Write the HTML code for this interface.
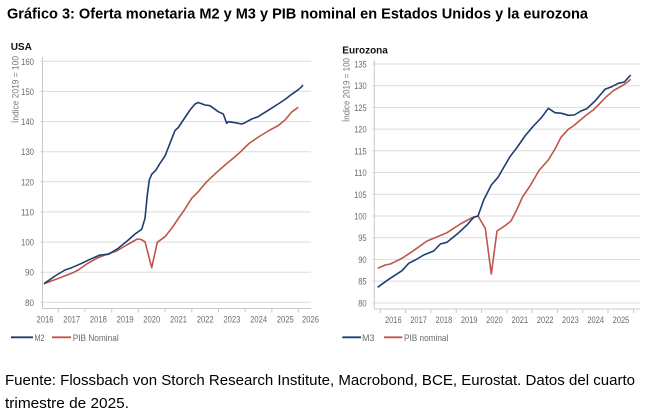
<!DOCTYPE html>
<html>
<head>
<meta charset="utf-8">
<style>
  html,body{margin:0;padding:0;background:#fff;}
  svg{display:block;}
  text{font-family:"Liberation Sans",sans-serif;}
  .tick{font-size:9.5px;fill:#6b6b6b;}
  .grid{stroke:#dcdcdc;stroke-width:1;}
  .axis{stroke:#c8c8c8;stroke-width:1;}
</style>
</head>
<body>
<svg width="645" height="417" viewBox="0 0 645 417" xmlns="http://www.w3.org/2000/svg">
  <rect width="645" height="417" fill="#fff"/>
  <!-- Title -->
  <text x="7" y="18.5" font-size="15" font-weight="bold" fill="#000" textLength="581" lengthAdjust="spacingAndGlyphs">Gráfico 3: Oferta monetaria M2 y M3 y PIB nominal en Estados Unidos y la eurozona</text>

  <!-- ================= USA ================= -->
  <text x="10.7" y="50" font-size="10" font-weight="bold" fill="#111">USA</text>
  <text transform="translate(18.5,89.5) rotate(-90)" text-anchor="middle" font-size="9.5" fill="#7a7a7a" textLength="67" lengthAdjust="spacingAndGlyphs">Índice 2019 = 100</text>

  <!-- gridlines -->
  <g class="grid">
    <line x1="40" y1="61.3" x2="311" y2="61.3"/>
    <line x1="40" y1="91.4" x2="311" y2="91.4"/>
    <line x1="40" y1="121.5" x2="311" y2="121.5"/>
    <line x1="40" y1="151.7" x2="311" y2="151.7"/>
    <line x1="40" y1="181.8" x2="311" y2="181.8"/>
    <line x1="40" y1="211.9" x2="311" y2="211.9"/>
    <line x1="40" y1="242.1" x2="311" y2="242.1"/>
    <line x1="40" y1="272.2" x2="311" y2="272.2"/>
    <line x1="40" y1="302.3" x2="311" y2="302.3"/>
  </g>
  <line class="axis" x1="42.5" y1="57" x2="42.5" y2="308.5"/>
  <line class="axis" x1="42.5" y1="308.5" x2="311" y2="308.5"/>
  <g class="axis">
    <line x1="58.3" y1="308.5" x2="58.3" y2="312.5"/>
    <line x1="85" y1="308.5" x2="85" y2="312.5"/>
    <line x1="111.7" y1="308.5" x2="111.7" y2="312.5"/>
    <line x1="138.4" y1="308.5" x2="138.4" y2="312.5"/>
    <line x1="165.1" y1="308.5" x2="165.1" y2="312.5"/>
    <line x1="191.8" y1="308.5" x2="191.8" y2="312.5"/>
    <line x1="218.5" y1="308.5" x2="218.5" y2="312.5"/>
    <line x1="245.2" y1="308.5" x2="245.2" y2="312.5"/>
    <line x1="271.9" y1="308.5" x2="271.9" y2="312.5"/>
    <line x1="298.6" y1="308.5" x2="298.6" y2="312.5"/>
  </g>
  <!-- y labels -->
  <g class="tick" text-anchor="end">
    <text x="34" y="64.8" textLength="13" lengthAdjust="spacingAndGlyphs">160</text>
    <text x="34" y="94.9" textLength="13" lengthAdjust="spacingAndGlyphs">150</text>
    <text x="34" y="125" textLength="13" lengthAdjust="spacingAndGlyphs">140</text>
    <text x="34" y="155.2" textLength="13" lengthAdjust="spacingAndGlyphs">130</text>
    <text x="34" y="185.3" textLength="13" lengthAdjust="spacingAndGlyphs">120</text>
    <text x="34" y="215.4" textLength="13" lengthAdjust="spacingAndGlyphs">110</text>
    <text x="34" y="245.6" textLength="13" lengthAdjust="spacingAndGlyphs">100</text>
    <text x="34" y="275.7" textLength="9" lengthAdjust="spacingAndGlyphs">90</text>
    <text x="34" y="305.8" textLength="9" lengthAdjust="spacingAndGlyphs">80</text>
  </g>
  <!-- x labels -->
  <g class="tick" text-anchor="middle">
    <text x="45" y="322.5" textLength="17" lengthAdjust="spacingAndGlyphs">2016</text>
    <text x="71.7" y="322.5" textLength="17" lengthAdjust="spacingAndGlyphs">2017</text>
    <text x="98.4" y="322.5" textLength="17" lengthAdjust="spacingAndGlyphs">2018</text>
    <text x="125.1" y="322.5" textLength="17" lengthAdjust="spacingAndGlyphs">2019</text>
    <text x="151.8" y="322.5" textLength="17" lengthAdjust="spacingAndGlyphs">2020</text>
    <text x="178.5" y="322.5" textLength="17" lengthAdjust="spacingAndGlyphs">2021</text>
    <text x="205.2" y="322.5" textLength="17" lengthAdjust="spacingAndGlyphs">2022</text>
    <text x="231.9" y="322.5" textLength="17" lengthAdjust="spacingAndGlyphs">2023</text>
    <text x="258.6" y="322.5" textLength="17" lengthAdjust="spacingAndGlyphs">2024</text>
    <text x="285.3" y="322.5" textLength="17" lengthAdjust="spacingAndGlyphs">2025</text>
    <text x="310.5" y="322.5" textLength="17" lengthAdjust="spacingAndGlyphs">2026</text>
  </g>
  <!-- series -->
  <polyline fill="none" stroke="#c0564a" stroke-width="1.6" stroke-linejoin="round" points="44,283.7 56.7,279 71.7,273.3 78.3,270 86.7,264 96.7,258.3 106.7,254.3 116.7,251 126.7,245 137.3,239 141,239.5 145,241.7 151.7,267.7 157.3,242.3 165,236.7 171.7,228.3 178,219 184.3,210 191.7,198.3 198.3,191.7 206.7,181.7 216.7,172.3 225,165 231.7,159.5 240,152.3 249,143.5 260,136 270,130 278.3,125.5 285,120 291.7,112 298.3,107.3"/>
  <polyline fill="none" stroke="#1d3e6f" stroke-width="1.6" stroke-linejoin="round" points="44,283.7 55,276 65,270 71.7,267.7 81.7,263.3 90,259.3 100,255 108.3,254.3 118.3,248.3 128.3,240 135,234 141.7,229.3 145,218.3 147.3,195 149.3,180 151.7,174.3 156,170 160,163.3 165,156 170,143.3 175,130.5 178.3,127.5 183.3,120 190,110 195,104 198.3,102.5 205,105 210,105.7 218.3,111.7 223.3,114 226.7,123.3 228.3,121.7 235,122.7 241.7,124 245,122.7 251.7,119 258,116.7 270,109.2 275,106 285,99.5 291.7,94.3 298.3,89.7 301,87.3 303,85"/>
  <!-- legend -->
  <line x1="11" y1="337.3" x2="33" y2="337.3" stroke="#1d3e6f" stroke-width="1.8"/>
  <text x="34.5" y="341" font-size="9.5" fill="#6b6b6b" textLength="10" lengthAdjust="spacingAndGlyphs">M2</text>
  <line x1="52" y1="337.3" x2="71" y2="337.3" stroke="#c0564a" stroke-width="1.8"/>
  <text x="72.7" y="341" font-size="9.5" fill="#6b6b6b" textLength="46" lengthAdjust="spacingAndGlyphs">PIB Nominal</text>

  <!-- ================= EUROZONA ================= -->
  <text x="342.3" y="53.5" font-size="10" font-weight="bold" fill="#111">Eurozona</text>
  <text transform="translate(349.5,90) rotate(-90)" text-anchor="middle" font-size="9.5" fill="#7a7a7a" textLength="64" lengthAdjust="spacingAndGlyphs">Índice 2019 = 100</text>

  <g class="grid">
    <line x1="372" y1="64" x2="640" y2="64"/>
    <line x1="372" y1="85.7" x2="640" y2="85.7"/>
    <line x1="372" y1="107.4" x2="640" y2="107.4"/>
    <line x1="372" y1="129.1" x2="640" y2="129.1"/>
    <line x1="372" y1="150.8" x2="640" y2="150.8"/>
    <line x1="372" y1="172.6" x2="640" y2="172.6"/>
    <line x1="372" y1="194.3" x2="640" y2="194.3"/>
    <line x1="372" y1="216" x2="640" y2="216"/>
    <line x1="372" y1="237.7" x2="640" y2="237.7"/>
    <line x1="372" y1="259.4" x2="640" y2="259.4"/>
    <line x1="372" y1="281.1" x2="640" y2="281.1"/>
    <line x1="372" y1="303" x2="640" y2="303"/>
  </g>
  <line class="axis" x1="374.3" y1="60" x2="374.3" y2="309"/>
  <line class="axis" x1="374.3" y1="309" x2="640" y2="309"/>
  <g class="axis">
    <line x1="380.3" y1="309" x2="380.3" y2="313"/>
    <line x1="405.6" y1="309" x2="405.6" y2="313"/>
    <line x1="430.9" y1="309" x2="430.9" y2="313"/>
    <line x1="456.2" y1="309" x2="456.2" y2="313"/>
    <line x1="481.5" y1="309" x2="481.5" y2="313"/>
    <line x1="506.8" y1="309" x2="506.8" y2="313"/>
    <line x1="532.1" y1="309" x2="532.1" y2="313"/>
    <line x1="557.4" y1="309" x2="557.4" y2="313"/>
    <line x1="582.7" y1="309" x2="582.7" y2="313"/>
    <line x1="608" y1="309" x2="608" y2="313"/>
    <line x1="633.5" y1="309" x2="633.5" y2="313"/>
  </g>
  <g class="tick" text-anchor="end">
    <text x="366.7" y="67.5" textLength="12.4" lengthAdjust="spacingAndGlyphs">135</text>
    <text x="366.7" y="89.2" textLength="12.4" lengthAdjust="spacingAndGlyphs">130</text>
    <text x="366.7" y="110.9" textLength="12.4" lengthAdjust="spacingAndGlyphs">125</text>
    <text x="366.7" y="132.6" textLength="12.4" lengthAdjust="spacingAndGlyphs">120</text>
    <text x="366.7" y="154.3" textLength="12.4" lengthAdjust="spacingAndGlyphs">115</text>
    <text x="366.7" y="176.1" textLength="12.4" lengthAdjust="spacingAndGlyphs">110</text>
    <text x="366.7" y="197.8" textLength="12.4" lengthAdjust="spacingAndGlyphs">105</text>
    <text x="366.7" y="219.5" textLength="12.4" lengthAdjust="spacingAndGlyphs">100</text>
    <text x="366.7" y="241.2" textLength="8.5" lengthAdjust="spacingAndGlyphs">95</text>
    <text x="366.7" y="262.9" textLength="8.5" lengthAdjust="spacingAndGlyphs">90</text>
    <text x="366.7" y="284.6" textLength="8.5" lengthAdjust="spacingAndGlyphs">85</text>
    <text x="366.7" y="306.5" textLength="8.5" lengthAdjust="spacingAndGlyphs">80</text>
  </g>
  <g class="tick" text-anchor="middle">
    <text x="393.3" y="323" textLength="16.7" lengthAdjust="spacingAndGlyphs">2016</text>
    <text x="418.6" y="323" textLength="16.7" lengthAdjust="spacingAndGlyphs">2017</text>
    <text x="443.9" y="323" textLength="16.7" lengthAdjust="spacingAndGlyphs">2018</text>
    <text x="469.2" y="323" textLength="16.7" lengthAdjust="spacingAndGlyphs">2019</text>
    <text x="494.5" y="323" textLength="16.7" lengthAdjust="spacingAndGlyphs">2020</text>
    <text x="519.8" y="323" textLength="16.7" lengthAdjust="spacingAndGlyphs">2021</text>
    <text x="545.1" y="323" textLength="16.7" lengthAdjust="spacingAndGlyphs">2022</text>
    <text x="570.4" y="323" textLength="16.7" lengthAdjust="spacingAndGlyphs">2023</text>
    <text x="595.7" y="323" textLength="16.7" lengthAdjust="spacingAndGlyphs">2024</text>
    <text x="621" y="323" textLength="16.7" lengthAdjust="spacingAndGlyphs">2025</text>
  </g>
  <polyline fill="none" stroke="#c0564a" stroke-width="1.6" stroke-linejoin="round" points="377.7,268.3 385.3,265 390.3,264 402,258.3 412,251.7 427,241 433.7,238.3 447,232.7 460.3,224 472,217.7 478,216 485.3,228.3 491.3,274 497,231 505,225.7 511,221 516.7,210 522.5,197 530,186 539,170.5 548.3,160 555,149 561,137.3 568.3,129.3 573.3,126 587,114.5 593.3,110 598.3,105 606,97 613.3,90.7 621.7,86 626.7,82.7 630.7,79.3"/>
  <polyline fill="none" stroke="#1d3e6f" stroke-width="1.6" stroke-linejoin="round" points="377.7,287.3 388.7,279.3 402,270.7 408.7,263.3 415.3,260 423.7,255 433.7,251 440.3,244 447,242.3 458.7,232.7 467,225 473.7,217.3 478,216 483.7,200 491.3,185 498,177.3 506,163.5 510,156.7 517,147.5 525,136 532.5,127 541.7,117.3 548.3,108.3 555,112.7 561.7,113.3 568.3,115.3 574.3,115 581,111 586.7,108.8 595,101 605,89.3 611.7,86.7 618.3,83.3 624.3,82 627.7,78.3 630.7,75"/>
  <line x1="342.3" y1="337.3" x2="361" y2="337.3" stroke="#1d3e6f" stroke-width="1.8"/>
  <text x="362" y="341" font-size="9.5" fill="#6b6b6b" textLength="12.5" lengthAdjust="spacingAndGlyphs">M3</text>
  <line x1="384" y1="337.3" x2="402.3" y2="337.3" stroke="#c0564a" stroke-width="1.8"/>
  <text x="404" y="341" font-size="9.5" fill="#6b6b6b" textLength="44.3" lengthAdjust="spacingAndGlyphs">PIB nominal</text>

  <!-- Footer -->
  <text x="5" y="385" font-size="14.5" fill="#000" textLength="630" lengthAdjust="spacingAndGlyphs">Fuente: Flossbach von Storch Research Institute, Macrobond, BCE, Eurostat. Datos del cuarto</text>
  <text x="5" y="408" font-size="14.5" fill="#000" textLength="124" lengthAdjust="spacingAndGlyphs">trimestre de 2025.</text>
</svg>
</body>
</html>
